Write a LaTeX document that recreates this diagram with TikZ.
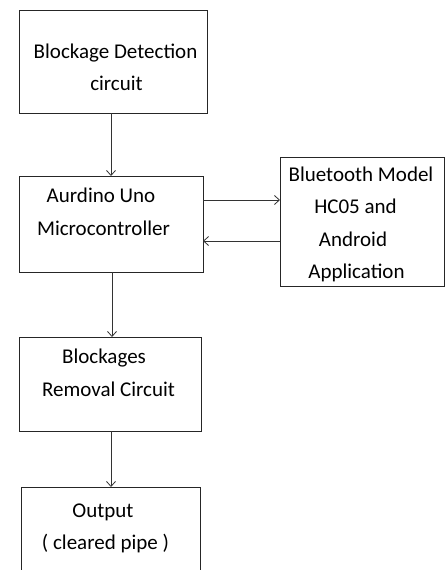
\documentclass[tikz,border=0pt]{standalone}
\usepackage{fontspec}
\setmainfont{Carlito}
\usetikzlibrary{arrows.meta}
\begin{document}
\begin{tikzpicture}[x=1pt,y=-1pt,
  box/.style={draw=black!85,line width=0.9pt,rectangle,inner sep=0pt,outer sep=0pt},
  lbl/.style={anchor=base,inner sep=0pt,font=\fontsize{21}{32}\selectfont,text=black},
  arr/.style={draw=black!80,line width=0.9pt,-{Straight Barb[length=5pt,width=9pt,line width=0.8pt]}}]
\useasboundingbox (0,0) rectangle (445,570);
\clip (0,0) rectangle (445,570);
% boxes
\node[box,minimum width=188pt,minimum height=103pt] (det) at (113,61.5) {};
\node[box,minimum width=184pt,minimum height=96pt] (uno) at (111,224) {};
\node[box,minimum width=164pt,minimum height=128.5pt] (bt) at (362,221.75) {};
\node[box,minimum width=182pt,minimum height=94pt] (rem) at (110,384) {};
\node[box,minimum width=179pt,minimum height=110pt] (out) at (110.5,542) {};
% labels
\node[lbl] (t1) at (115.5,58) {Blockage Detection};
\node[lbl] (t2) at (116.5,90) {circuit};
\node[lbl] (t3) at (101,202) {Aurdino Uno};
\node[lbl] (t4) at (103.5,235) {Microcontroller};
\node[lbl] (t5) at (361,181.5) {Bluetooth Model};
\node[lbl] (t6) at (355.5,213) {HC05 and};
\node[lbl] (t7) at (353,246) {Android};
\node[lbl] (t8) at (356.5,278) {Application};
\node[lbl] (t9) at (104,363) {Blockages};
\node[lbl] (t10) at (108.5,396) {Removal Circuit};
\node[lbl] (t11) at (103,517) {Output};
\node[lbl] (t12) at (105.5,549) {( cleared pipe )};
% connectors
\coordinate (v1) at (111,0);
\coordinate (v2) at (112,0);
\coordinate (h1) at (0,200);
\coordinate (h2) at (0,241);
\draw[arr] (v1 |- det.south) -- (v1 |- uno.north);
\draw[arr] (v2 |- uno.south) -- (v2 |- rem.north);
\draw[arr] (v1 |- rem.south) -- (v1 |- out.north);
\draw[arr] (uno.east |- h1) -- (bt.west |- h1);
\draw[arr] (bt.west |- h2) -- (uno.east |- h2);
\end{tikzpicture}
\end{document}
